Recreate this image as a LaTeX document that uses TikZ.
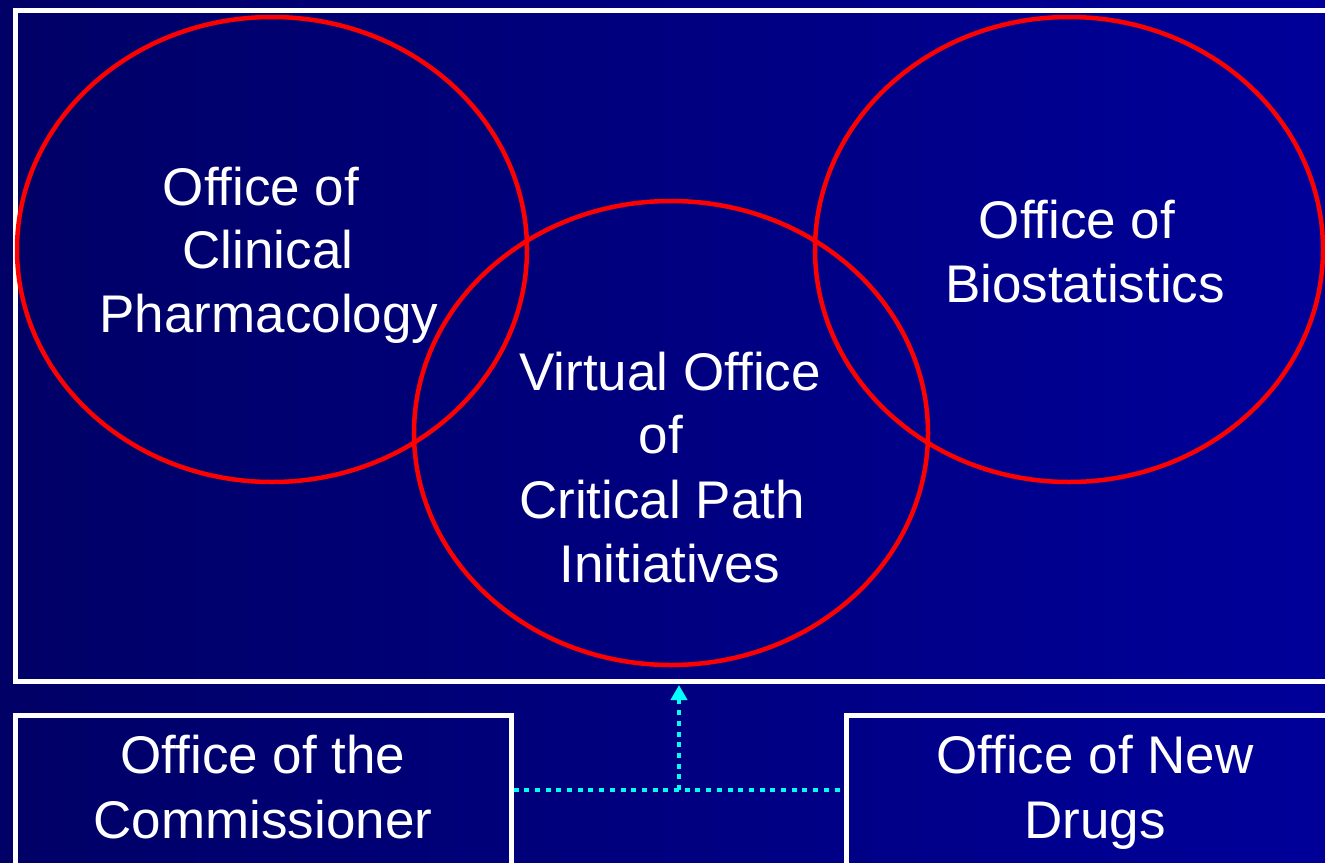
\documentclass[tikz,border=0pt]{standalone}
\usepackage{fontspec}
\setmainfont{Liberation Sans}
\usetikzlibrary{shapes.geometric,arrows.meta}
\definecolor{navyleft}{HTML}{000066}
\definecolor{navyright}{HTML}{000099}
\definecolor{ringred}{HTML}{FF0000}
\definecolor{linkcyan}{HTML}{00FFFF}
\begin{document}
\begin{tikzpicture}[x=1pt,y=-1pt,
  frame/.style={draw=white,line width=5pt,rectangle,inner sep=0pt},
  ring/.style={draw=ringred,line width=4.5pt,ellipse,inner sep=0pt},
  label/.style={text=white,inner sep=0pt,anchor=base,font=\fontsize{53}{64}\selectfont},
  link/.style={draw=linkcyan,line width=4.5pt,dash pattern=on 5pt off 5.7pt}]
  % background
  \useasboundingbox (0,0) rectangle (1325,862);
  \shade[left color=navyleft,right color=navyright] (0,0) rectangle (1325,862);
  % frames
  \node[frame,minimum width=1315pt,minimum height=671pt] (outer) at (672.5,345.5) {};
  \node[frame,minimum width=496pt,minimum height=150pt] (comm) at (263,790) {};
  \node[frame,minimum width=484pt,minimum height=150pt] (ond) at (1088,790) {};
  % overlapping offices
  \node[ring,minimum width=510pt,minimum height=465pt] (ocp) at (272,249.5) {};
  \node[ring,minimum width=514pt,minimum height=464pt] (vocpi) at (671,433) {};
  \node[ring,minimum width=508pt,minimum height=465pt] (ob) at (1069,249.5) {};
  % texts
  \node[label] (ocpA) at (261,205) {Office of};
  \node[label] (ocpB) at (268,268) {Clinical};
  \node[label] (ocpC) at (269,332) {Pharmacology};
  \node[label] (obA) at (1077,238) {Office of};
  \node[label] (obB) at (1085,302) {Biostatistics};
  \node[label] (vA) at (670,390) {Virtual Office};
  \node[label] (vB) at (661,453) {of};
  \node[label] (vC) at (662,518) {Critical Path};
  \node[label] (vD) at (670,582) {Initiatives};
  \node[label] (commA) at (263,773) {Office of the};
  \node[label] (commB) at (263,838) {Commissioner};
  \node[label] (ondA) at (1095,773) {Office of New};
  \node[label] (ondB) at (1095,838) {Drugs};
  % dotted link between the two offices and up to the virtual office
  \coordinate (junction) at (679,790);
  \draw[link] (comm.east) -- (ond.west);
  \draw[link,-{Triangle[width=16pt,length=15pt]},shorten >=1.5pt] (junction) -- (junction |- outer.south);
\end{tikzpicture}
\end{document}
